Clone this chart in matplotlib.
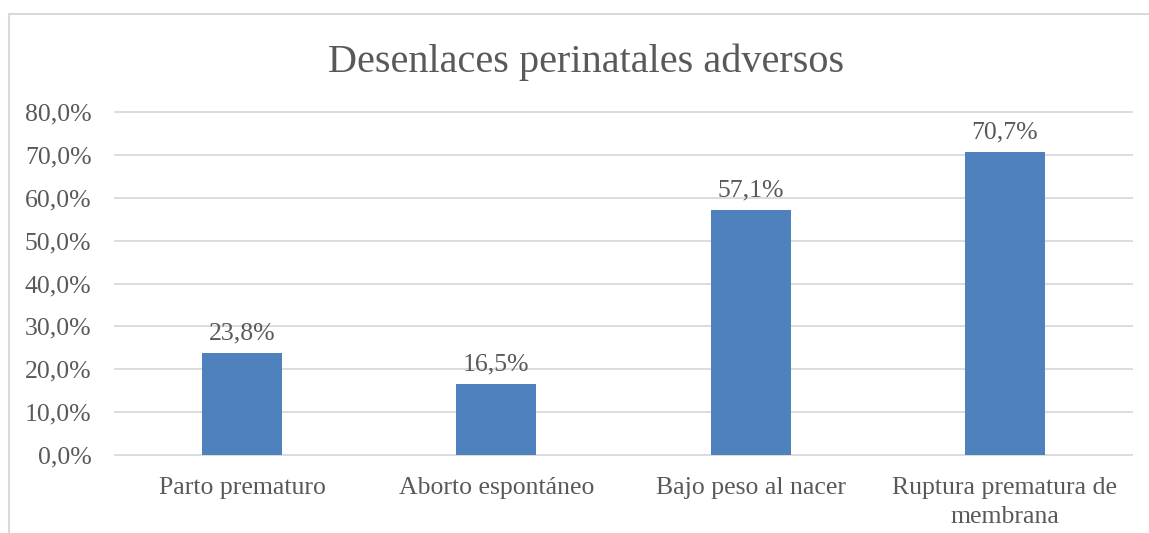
import numpy as np
import matplotlib.pyplot as plt
from matplotlib.patches import Rectangle

categories = ["Parto prematuro", "Aborto espontáneo", "Bajo peso al nacer",
              "Ruptura prematura de\nmembrana"]
values = [23.8, 16.5, 57.1, 70.7]
yticks = [0, 10, 20, 30, 40, 50, 60, 70, 80]

TEXT = "#595959"
GRID = "#D9D9D9"
BAR = "#4F81BD"

plt.rcParams["font.family"] = ["Liberation Serif"]

fig = plt.figure(figsize=(11.49, 5.33), dpi=100)
ax = fig.add_axes([115 / 1149, 1 - 455 / 533, (1132 - 115) / 1149, (455 - 112) / 533])

x = np.arange(len(categories))
bars = ax.bar(x, values, width=0.315, color=BAR, zorder=3)

for b, v in zip(bars, values):
    ax.annotate(f"{v:.1f}%".replace(".", ","), (b.get_x() + b.get_width() / 2, v),
                xytext=(0, 6), textcoords="offset points", ha="center", va="bottom",
                fontsize=18.5, color=TEXT)

ax.set_xlim(-0.5, len(categories) - 0.5)
ax.set_ylim(0, 80)
ax.set_yticks(yticks)
ax.set_yticklabels([f"{t:.1f}%".replace(".", ",") for t in yticks])
ax.set_xticks(x)
ax.set_xticklabels(categories, linespacing=1.4)
ax.tick_params(axis="both", length=0, labelsize=18.5, labelcolor=TEXT)
ax.tick_params(axis="y", pad=17)
ax.tick_params(axis="x", pad=16)

ax.grid(axis="y", color=GRID, linewidth=1.3, zorder=0)
for line in ax.get_ygridlines():
    line.set_clip_on(False)
for s in ax.spines.values():
    s.set_visible(False)

fig.text(586 / 1149, 1 - 62 / 533, "Desenlaces perinatales adversos",
         ha="center", va="center", fontsize=29, color=TEXT)

# chart border (only left and top visible in the crop)
fig.patches.append(Rectangle((9 / 1149, -0.2), 1.2, 1.2 - 14 / 533,
                             transform=fig.transFigure, fill=False,
                             edgecolor=GRID, linewidth=1.5))

fig.savefig("out.png", dpi=100)
